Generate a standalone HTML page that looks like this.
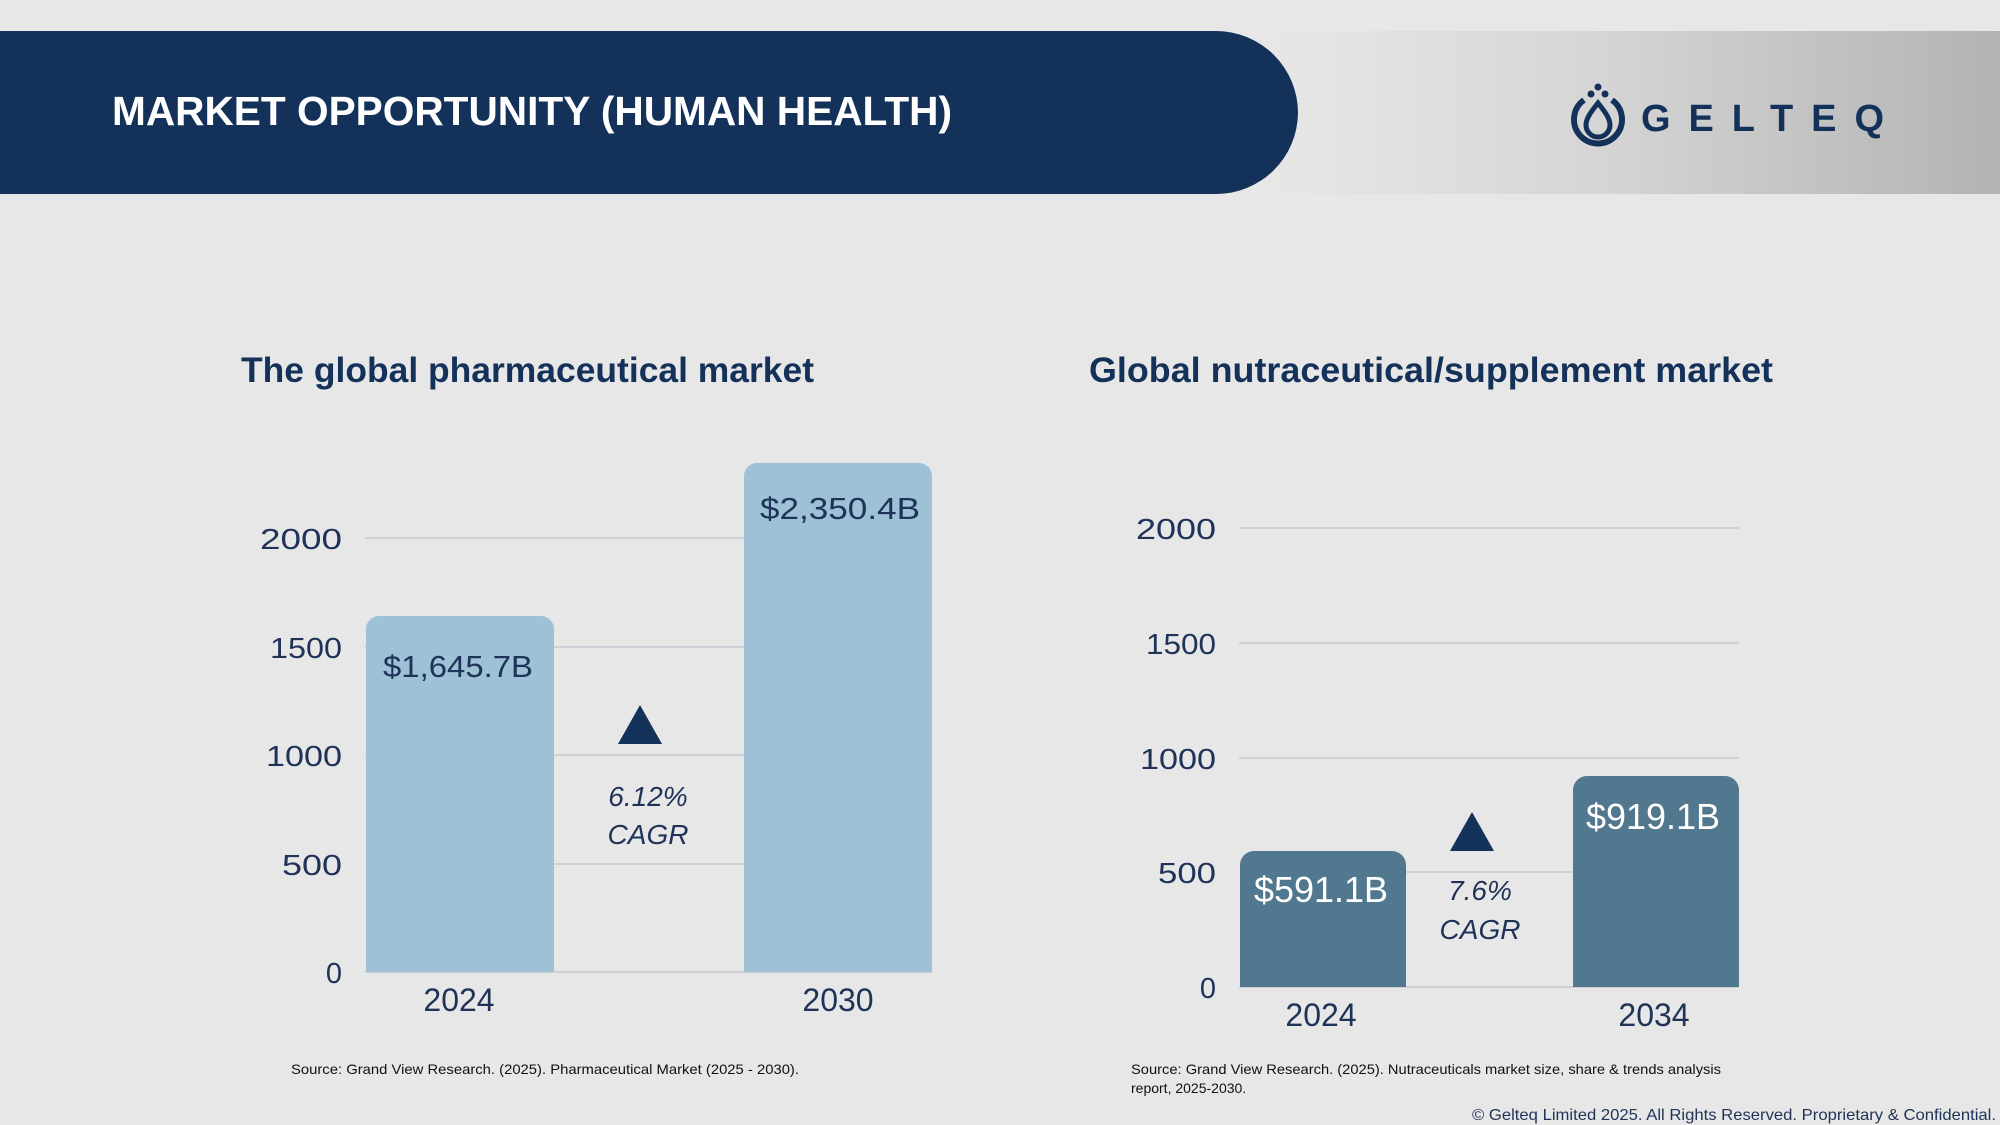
<!DOCTYPE html>
<html><head><meta charset="utf-8"><style>
html,body{margin:0;padding:0;background:#e7e7e7;}
svg{display:block;}
text{font-family:"Liberation Sans",sans-serif;}
</style></head><body>
<svg width="2000" height="1125" viewBox="0 0 2000 1125" xmlns="http://www.w3.org/2000/svg">
<defs>
<linearGradient id="g" x1="0" x2="1" y1="0" y2="0">
<stop offset="0" stop-color="#e8e8e8"/><stop offset="0.45" stop-color="#d6d6d6"/><stop offset="1" stop-color="#b3b3b3"/>
</linearGradient>
</defs>
<rect width="2000" height="1125" fill="#e7e7e7"/>
<rect x="1250" y="31" width="750" height="163" fill="url(#g)"/>
<path d="M0 31 H1216 A82 82 0 0 1 1298 113 A82 82 0 0 1 1216 194 H0 Z" fill="#14315a"/>
<text x="112" y="125" font-size="41" font-weight="bold" fill="#fff" textLength="840" lengthAdjust="spacingAndGlyphs">MARKET OPPORTUNITY (HUMAN HEALTH)</text>
<!-- logo -->
<g fill="none" stroke="#14315a" stroke-width="6">
<path d="M1584 100 A24 24 0 1 0 1612 100"/>
<path d="M1598 103 C1590 113 1586 119 1586 125 A12 12 0 0 0 1610 125 C1610 119 1606 113 1598 103 Z" stroke-width="5"/>
</g>
<circle cx="1598" cy="87" r="3.5" fill="#14315a"/>
<circle cx="1591" cy="94" r="3.5" fill="#14315a"/>
<circle cx="1605" cy="94" r="3.5" fill="#14315a"/>
<text x="1641" y="131" font-size="38" font-weight="bold" fill="#14315a" textLength="243" lengthAdjust="spacing">GELTEQ</text>

<!-- left chart -->
<text x="241" y="382" font-size="35" font-weight="bold" fill="#14315a" textLength="573" lengthAdjust="spacingAndGlyphs">The global pharmaceutical market</text>
<g stroke="#c4c8d0" stroke-width="1.5">
<line x1="365" x2="932" y1="538" y2="538"/><line x1="365" x2="932" y1="647" y2="647"/>
<line x1="365" x2="932" y1="755" y2="755"/><line x1="365" x2="932" y1="864" y2="864"/>
<line x1="365" x2="932" y1="972" y2="972"/>
</g>
<g font-size="29" fill="#1f3257" text-anchor="end">
<text x="342" y="549" textLength="82" lengthAdjust="spacingAndGlyphs">2000</text><text x="342" y="658" textLength="72" lengthAdjust="spacingAndGlyphs">1500</text><text x="342" y="766" textLength="76" lengthAdjust="spacingAndGlyphs">1000</text>
<text x="342" y="875" textLength="60" lengthAdjust="spacingAndGlyphs">500</text><text x="342" y="983">0</text>
</g>
<path d="M366 972 V629 a13 13 0 0 1 13 -13 H541 a13 13 0 0 1 13 13 V972 Z" fill="#9ec1d6"/>
<path d="M744 972 V476 a13 13 0 0 1 13 -13 H919 a13 13 0 0 1 13 13 V972 Z" fill="#9ec1d6"/>
<text x="383" y="677" font-size="31" fill="#1f3257" textLength="150" lengthAdjust="spacingAndGlyphs">$1,645.7B</text>
<text x="760" y="519" font-size="31" fill="#1f3257" textLength="160" lengthAdjust="spacingAndGlyphs">$2,350.4B</text>
<polygon points="640,705 618,744 662,744" fill="#14315a"/>
<g font-size="28" font-style="italic" fill="#1f3257" text-anchor="middle">
<text x="648" y="806">6.12%</text><text x="648" y="844">CAGR</text></g>
<g font-size="32" fill="#1f3257" text-anchor="middle">
<text x="459" y="1011">2024</text><text x="838" y="1011">2030</text></g>
<text x="291" y="1074" font-size="14" fill="#111" textLength="508" lengthAdjust="spacingAndGlyphs">Source: Grand View Research. (2025). Pharmaceutical Market (2025 - 2030).</text>

<!-- right chart -->
<text x="1089" y="382" font-size="35" font-weight="bold" fill="#14315a" textLength="684" lengthAdjust="spacingAndGlyphs">Global nutraceutical/supplement market</text>
<g stroke="#c4c8d0" stroke-width="1.5">
<line x1="1239" x2="1739" y1="528" y2="528"/><line x1="1239" x2="1739" y1="643" y2="643"/>
<line x1="1239" x2="1739" y1="758" y2="758"/><line x1="1239" x2="1739" y1="872" y2="872"/>
<line x1="1239" x2="1739" y1="987" y2="987"/>
</g>
<g font-size="29" fill="#1f3257" text-anchor="end">
<text x="1216" y="539" textLength="80" lengthAdjust="spacingAndGlyphs">2000</text><text x="1216" y="654" textLength="70" lengthAdjust="spacingAndGlyphs">1500</text><text x="1216" y="769" textLength="76" lengthAdjust="spacingAndGlyphs">1000</text>
<text x="1216" y="883" textLength="58" lengthAdjust="spacingAndGlyphs">500</text><text x="1216" y="998">0</text>
</g>
<path d="M1240 987 V865 a14 14 0 0 1 14 -14 H1392 a14 14 0 0 1 14 14 V987 Z" fill="#52788f"/>
<path d="M1573 987 V790 a14 14 0 0 1 14 -14 H1725 a14 14 0 0 1 14 14 V987 Z" fill="#52788f"/>
<text x="1321" y="902" font-size="36" fill="#fff" text-anchor="middle">$591.1B</text>
<text x="1653" y="829" font-size="36" fill="#fff" text-anchor="middle">$919.1B</text>
<polygon points="1472,812 1450,851 1494,851" fill="#14315a"/>
<g font-size="28" font-style="italic" fill="#1f3257" text-anchor="middle">
<text x="1480" y="900">7.6%</text><text x="1480" y="939">CAGR</text></g>
<g font-size="32" fill="#1f3257" text-anchor="middle">
<text x="1321" y="1026">2024</text><text x="1654" y="1026">2034</text></g>
<text x="1131" y="1074" font-size="14" fill="#111" textLength="590" lengthAdjust="spacingAndGlyphs">Source: Grand View Research. (2025). Nutraceuticals market size, share &amp; trends analysis</text>
<text x="1131" y="1093" font-size="14" fill="#111">report, 2025-2030.</text>
<text x="1996" y="1120" font-size="16" fill="#1f3257" text-anchor="end" textLength="524" lengthAdjust="spacingAndGlyphs">© Gelteq Limited 2025. All Rights Reserved. Proprietary &amp; Confidential.</text>
</svg>
</body></html>
